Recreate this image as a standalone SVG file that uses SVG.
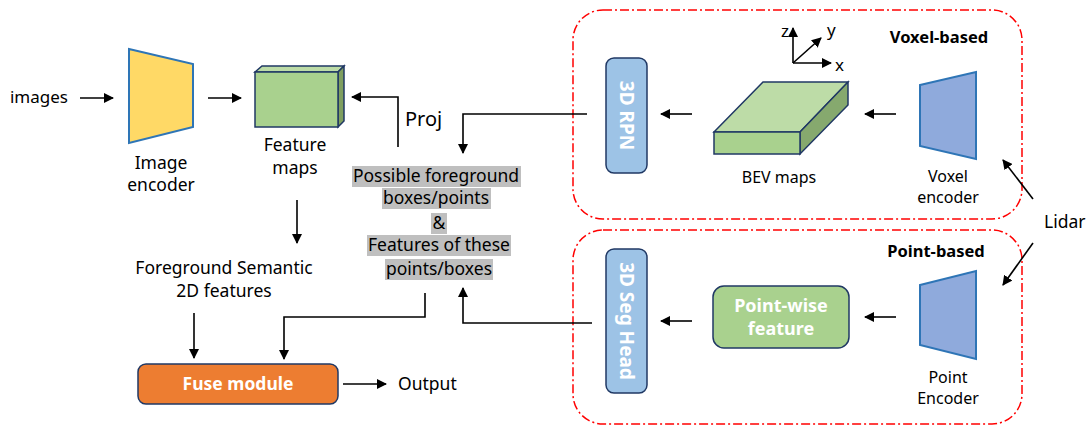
<svg xmlns="http://www.w3.org/2000/svg" width="1086" height="426" viewBox="0 0 1086 426">
<defs>
<marker id="ah" viewBox="0 0 10 10" refX="9" refY="5" markerWidth="10" markerHeight="10" markerUnits="userSpaceOnUse" orient="auto">
<path d="M0,0 L10,5 L0,10 z" fill="#000"/>
</marker>
<style>
text{font-family:"Noto Sans","Open Sans","DejaVu Sans",sans-serif;fill:#000;}
.t{font-size:17.5px;text-anchor:middle;}
.b{font-weight:bold;}
.w{fill:#fff;font-weight:bold;text-anchor:middle;}
.c{fill:none;stroke:#000;stroke-width:1.6;}
.ca{fill:none;stroke:#000;stroke-width:1.6;marker-end:url(#ah);}
.red{fill:none;stroke:#FF0000;stroke-width:1.5;stroke-dasharray:9 3 2 3;}
.navy{stroke:#203864;stroke-width:1.5;}
.enc{stroke:#2E75B6;stroke-width:2;}
.hl{fill:#BFBFBF;}
</style>
</defs>
<rect width="1086" height="426" fill="#fff"/>

<g id="voxel-group">
<rect class="red" x="573" y="10" width="449" height="209" rx="30"/>
<text x="939" y="43" font-size="16.5" class="b" text-anchor="middle">Voxel-based</text>
</g>
<g id="point-group">
<rect class="red" x="573" y="230" width="449" height="194" rx="30"/>
<text x="936" y="257" font-size="16.5" class="b" text-anchor="middle">Point-based</text>
</g>

<g id="images"><text x="39" y="103" font-size="17" text-anchor="middle">images</text></g>

<g id="image-encoder">
<polygon points="129,49 193,64 193,127 129,143" fill="#FFD966" class="enc"/>
<text x="161" y="169" class="t">Image</text>
<text x="161" y="191" class="t">encoder</text>
</g>

<g id="feature-maps">
<polygon points="255,72 262,66 344,66 338,72" fill="#BDDCA7" class="navy"/>
<polygon points="338,72 344,66 344,121 338,127" fill="#7F9F5F" class="navy"/>
<rect x="255" y="72" width="83" height="55" fill="#A9D18E" class="navy"/>
<text x="295" y="151" class="t">Feature</text>
<text x="295" y="174" class="t">maps</text>
</g>

<g id="proj-label"><text x="405" y="126" font-size="20">Proj</text></g>

<g id="candidates">
<rect class="hl" x="352" y="166" width="169" height="21"/>
<rect class="hl" x="382" y="188" width="109" height="21"/>
<rect class="hl" x="431" y="213" width="16" height="21"/>
<rect class="hl" x="367" y="235" width="144" height="21"/>
<rect class="hl" x="385" y="259" width="108" height="21"/>
<text x="436" y="182" class="t">Possible foreground</text>
<text x="436" y="204" class="t">boxes/points</text>
<text x="439" y="229" class="t">&amp;</text>
<text x="439" y="251" class="t">Features of these</text>
<text x="439" y="275" class="t">points/boxes</text>
</g>

<g id="fg-semantic">
<text x="224" y="274" class="t">Foreground Semantic</text>
<text x="224" y="297" class="t">2D features</text>
</g>

<g id="fuse-module">
<rect x="138" y="364" width="200" height="40" rx="8" fill="#ED7D31" class="navy"/>
<text x="238" y="390" font-size="17.5" class="w">Fuse module</text>
</g>

<g id="output"><text x="398" y="390" font-size="17.5">Output</text></g>

<g id="rpn">
<rect x="606" y="58" width="41" height="115" rx="8" fill="#9DC3E6" class="navy"/>
<text transform="translate(626.5,115.5) rotate(90)" y="6.8" font-size="19" class="w">3D RPN</text>
</g>

<g id="bev-maps">
<polygon points="714,132 763,82 848,82 800,132" fill="#BDDCA7" class="navy"/>
<polygon points="800,132 848,82 848,105 800,154" fill="#86A96E" class="navy"/>
<rect x="714" y="132" width="86" height="22" fill="#A9D18E" class="navy"/>
<text x="779" y="183" font-size="16" text-anchor="middle">BEV maps</text>
</g>

<g id="axes">
<line x1="793" y1="63" x2="793" y2="28" class="ca"/>
<line x1="793" y1="63" x2="831" y2="63" class="ca"/>
<line x1="793" y1="63" x2="821" y2="38" class="ca"/>
<text x="781" y="37" font-size="17">z</text>
<text x="827" y="36" font-size="17">y</text>
<text x="835" y="71" font-size="17">x</text>
</g>

<g id="voxel-encoder">
<polygon points="920,85 976,72 976,159 920,146" fill="#8FAADC" class="enc"/>
<text x="948" y="182" font-size="16" text-anchor="middle">Voxel</text>
<text x="948" y="203" font-size="16" text-anchor="middle">encoder</text>
</g>

<g id="seg-head">
<rect x="606" y="249" width="41" height="144" rx="8" fill="#9DC3E6" class="navy"/>
<text transform="translate(626.5,321) rotate(90)" y="6.8" font-size="19" class="w">3D Seg Head</text>
</g>

<g id="point-wise">
<rect x="713" y="286" width="136" height="62" rx="11" fill="#A9D18E" class="navy"/>
<text x="781" y="312" font-size="18" class="w">Point-wise</text>
<text x="781" y="335" font-size="18" class="w">feature</text>
</g>

<g id="point-encoder">
<polygon points="920,285 976,271 976,359 920,345" fill="#8FAADC" class="enc"/>
<text x="948" y="383" font-size="16" text-anchor="middle">Point</text>
<text x="948" y="404" font-size="16" text-anchor="middle">Encoder</text>
</g>

<g id="lidar"><text x="1044" y="228" font-size="17.5">Lidar</text></g>

<g id="connectors">
<line x1="80" y1="98" x2="113" y2="98" class="ca"/>
<line x1="208" y1="98" x2="241" y2="98" class="ca"/>
<polyline points="398,147 398,97 352,97" class="ca"/>
<polyline points="587,114 463,114 463,153" class="ca"/>
<line x1="297" y1="200" x2="297" y2="243" class="ca"/>
<line x1="194" y1="313" x2="194" y2="358" class="ca"/>
<polyline points="425,293 425,317 284,317 284,359" class="ca"/>
<polyline points="592,323 463,323 463,288" class="ca"/>
<line x1="343" y1="384" x2="386" y2="384" class="ca"/>
<line x1="692" y1="114" x2="661" y2="114" class="ca"/>
<line x1="896" y1="114" x2="865" y2="114" class="ca"/>
<line x1="692" y1="321" x2="661" y2="321" class="ca"/>
<line x1="896" y1="317" x2="865" y2="317" class="ca"/>
<line x1="1033" y1="199" x2="1003" y2="160" class="ca"/>
<line x1="1033" y1="243" x2="1003" y2="285" class="ca"/>
</g>
</svg>
